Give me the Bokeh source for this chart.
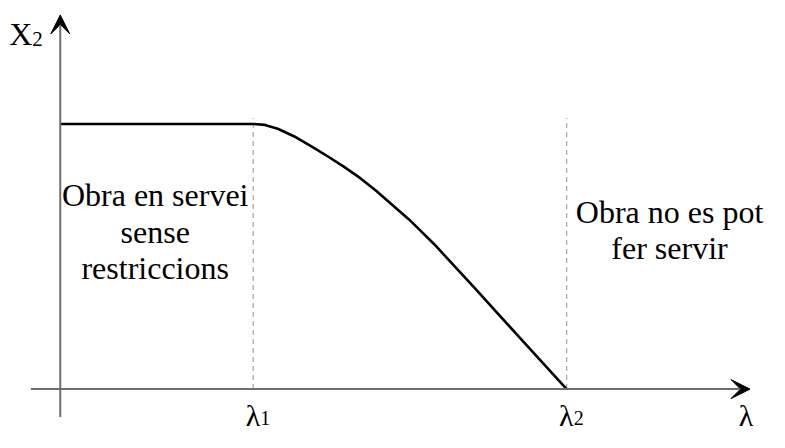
from bokeh.plotting import figure
from bokeh.models import Range1d, Arrow, VeeHead, ColumnDataSource
from bokeh.core.properties import value
from bokeh.embed import file_html
from bokeh.resources import INLINE

# --- data -------------------------------------------------------------
lambda_ticks = [1.0, 2.624]                 # lambda_1, lambda_2
tick_main = ["λ", "λ"]
tick_sub = ["1", "2"]

curve_x = [0.0, 1.0, 1.061, 1.127, 1.213, 1.299, 1.381, 1.467, 1.553,
           1.635, 1.721, 1.807, 1.873, 1.939, 2.142, 2.396, 2.624]
curve_y = [1.0, 1.0, 0.9964, 0.9818, 0.9527, 0.9164, 0.880, 0.840, 0.7964,
           0.7491, 0.6945, 0.640, 0.5927, 0.5455, 0.3855, 0.1818, 0.0]

left_lines = ["Obra en servei", "sense", "restriccions"]
left_x = [0.492, 0.492, 0.492]
left_y = [0.731, 0.593, 0.458]

right_lines = ["Obra no es pot", "fer servir"]
right_x = [3.157, 3.157]
right_y = [0.669, 0.531]

dash_top = 1.022

FONT = value("Liberation Serif")

p = figure(width=769, height=432, output_backend="svg", toolbar_location=None,
           x_range=Range1d(-0.3096, 3.675), y_range=Range1d(-0.1636, 1.4655),
           min_border=0)
p.axis.visible = False
p.grid.visible = False
p.outline_line_color = None
p.background_fill_color = "white"

# axes with arrow heads
p.add_layout(Arrow(end=VeeHead(size=19, fill_color="black", line_color="black", line_width=1),
                   x_start=-0.152, y_start=0, x_end=3.574, y_end=0,
                   line_color="#6e6e6e", line_width=2))
p.add_layout(Arrow(end=VeeHead(size=19, fill_color="black", line_color="black", line_width=1),
                   x_start=0, y_start=-0.105, x_end=0, y_end=1.411,
                   line_color="#6e6e6e", line_width=2))

# dashed guides
for lx in lambda_ticks:
    p.line([lx, lx], [0, dash_top], line_color="#a6a6a6", line_width=1.2, line_dash="5 4")

# curve
p.line(curve_x, curve_y, line_color="black", line_width=2.6, line_join="round")

# region texts
p.text(x=left_x, y=left_y, text=left_lines, text_font=FONT, text_font_size="32px",
       text_align="center", text_baseline="alphabetic", text_color="black")
p.text(x=right_x, y=right_y, text=right_lines, text_font=FONT, text_font_size="32px",
       text_align="center", text_baseline="alphabetic", text_color="black")

# tick labels lambda_1, lambda_2
src = ColumnDataSource(dict(x=lambda_ticks, y=[0, 0], m=tick_main, s=tick_sub))
p.text(x="x", y="y", text="m", source=src, text_font=FONT, text_font_size="30px",
       text_align="right", text_baseline="alphabetic", x_offset=7, y_offset=26)
p.text(x="x", y="y", text="s", source=src, text_font=FONT, text_font_size="20px",
       text_align="left", text_baseline="alphabetic", x_offset=7, y_offset=29)

# axis names
p.text(x=[3.574], y=[0], text=["λ"], text_font=FONT, text_font_size="30px",
       text_align="center", text_baseline="alphabetic", x_offset=-4, y_offset=26)
p.text(x=[0], y=[1.411], text=["X"], text_font=FONT, text_font_size="32px",
       text_align="right", text_baseline="alphabetic", x_offset=-28, y_offset=19)
p.text(x=[0], y=[1.411], text=["2"], text_font=FONT, text_font_size="21px",
       text_align="left", text_baseline="alphabetic", x_offset=-28, y_offset=24)

open("out.html", "w").write(file_html(p, INLINE))
